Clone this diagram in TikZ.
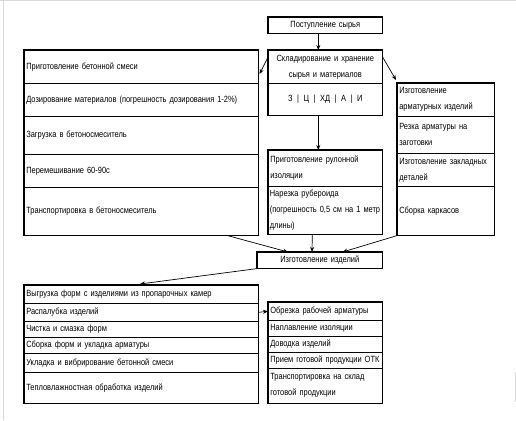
\documentclass[tikz,border=0pt]{standalone}
\usepackage{fontspec}
\setmainfont[FakeStretch=0.83]{Liberation Sans}
\usetikzlibrary{arrows.meta,calc}
\begin{document}
\begin{tikzpicture}[x=1pt,y=-1pt,
  cell/.style={draw,line width=0.6pt,anchor=north west,inner xsep=2pt,inner ysep=0pt,
    font=\fontsize{9}{16}\selectfont,align=left},
  ccell/.style={cell,align=center},
  frame/.style={draw,line width=1.4pt},
  arr/.style={line width=0.7pt,-{Stealth[length=5pt,width=4pt]}}]
\useasboundingbox (0,0) rectangle (516,420);
\draw[gray!30,line width=1pt] (0,0.5) -- (516,0.5);
\draw[gray!30,line width=1pt] (3,0) -- (3,420);
\draw[gray!30,line width=1pt] (515,372) -- (515,402);
% top
\node[ccell,minimum width=114,minimum height=16,text width=110] (src) at (268,17) {Поступление сырья};
\draw[frame] (src.north west) rectangle (src.south east);
% storage
\node[ccell,minimum width=114,minimum height=33,text width=110] (s1) at (268,50) {Складирование и хранение\\сырья и материалов};
\node[ccell,minimum width=114,minimum height=32,text width=110] (s2) at (268,83) {З \,|\, Ц \,|\, ХД \,|\, А \,|\, И};
\draw[frame] (s1.north west) rectangle (s2.south east);
% left box
\node[cell,minimum width=234,minimum height=33,text width=230] (L1) at (24,50) {Приготовление бетонной смеси};
\node[cell,minimum width=234,minimum height=33,text width=230] (L2) at (24,83) {Дозирование материалов (погрешность дозирования 1-2\%)};
\node[cell,minimum width=234,minimum height=38,text width=230] (L3) at (24,116) {Загрузка в бетоносмеситель};
\node[cell,minimum width=234,minimum height=33,text width=230] (L4) at (24,154) {Перемешивание 60-90с};
\node[cell,minimum width=234,minimum height=48,text width=230] (L5) at (24,187) {Транспортировка в бетоносмеситель};
\draw[frame] (L1.north west) rectangle (L5.south east);
% right box
\node[cell,minimum width=97,minimum height=33,text width=93] (R1) at (397,83) {Изготовление\\арматурных изделий};
\node[cell,minimum width=97,minimum height=37,text width=93] (R2) at (397,116) {Резка арматуры на\\заготовки};
\node[cell,minimum width=97,minimum height=33,text width=93] (R3) at (397,153) {Изготовление закладных\\деталей};
\node[cell,minimum width=97,minimum height=49,text width=93] (R4) at (397,186) {Сборка каркасов};
\draw[frame] (R1.north west) rectangle (R4.south east);
% roll insulation
\node[cell,minimum width=114,minimum height=36,text width=110] (P1) at (268,150) {Приготовление рулонной\\изоляции};
\node[cell,minimum width=114,minimum height=48,text width=111,inner xsep=1.5pt] (P2) at (268,186) {Нарезка рубероида\\\mbox{(погрешность 0,5 см на 1 метр}\\длины)};
\draw[frame] (P1.north west) rectangle (P2.south east);
% manufacture
\node[ccell,minimum width=125,minimum height=16,text width=121] (M) at (257,252) {Изготовление изделий};
\draw[frame] (M.north west) rectangle (M.south east);
% bottom left
\node[cell,minimum width=234,minimum height=18,text width=230] (B1) at (24,285) {Выгрузка форм с изделиями из пропарочных камер};
\node[cell,minimum width=234,minimum height=18,text width=230] (B2) at (24,303) {Распалубка изделий};
\node[cell,minimum width=234,minimum height=16,text width=230] (B3) at (24,321) {Чистка и смазка форм};
\node[cell,minimum width=234,minimum height=16,text width=230] (B4) at (24,337) {Сборка форм и укладка арматуры};
\node[cell,minimum width=234,minimum height=19,text width=230] (B5) at (24,353) {Укладка и вибрирование бетонной смеси};
\node[cell,minimum width=234,minimum height=31,text width=230] (B6) at (24,372) {Тепловлажностная обработка изделий};
\draw[frame] (B1.north west) rectangle (B6.south east);
% bottom right
\node[cell,minimum width=114,minimum height=18,text width=110] (C1) at (268,302) {Обрезка рабочей арматуры};
\node[cell,minimum width=114,minimum height=16,text width=110] (C2) at (268,320) {Наплавление изоляции};
\node[cell,minimum width=114,minimum height=16,text width=110] (C3) at (268,336) {Доводка изделий};
\node[cell,minimum width=114,minimum height=16,text width=110] (C4) at (268,352) {Прием готовой продукции ОТК};
\node[cell,minimum width=114,minimum height=35,text width=110] (C5) at (268,368) {Транспортировка на склад\\готовой продукции};
\draw[frame] (C1.north west) rectangle (C5.south east);
% connectors
\draw[arr] ($(src.south)+(-7,0)$) -- ($(s1.north)+(-7,0)$);
\draw[arr] ($(s1.north west)+(0,7)$) -- ($(L1.north east)+(1,24)$);
\draw[arr] ($(s1.north east)+(0,7)$) -- ($(R1.north west)+(-1,-3)$);
\draw[arr] ($(s2.south)+(-7,0)$) -- ($(P1.north)+(-7,0)$);
\draw[arr] ($(L5.south east)+(-31,0)$) -- ($(M.north west)+(31,0)$);
\draw[arr] ($(P2.south)+(-13,0)$) -- ($(M.north west)+(55,0)$);
\draw[arr] (R4.south west) -- ($(M.north east)+(-40,0)$);
\draw[arr] (M.south west) -- ($(B1.north west)+(116,-1)$);
\draw[arr] (B2.east) -- (C1.west);
\end{tikzpicture}
\end{document}
